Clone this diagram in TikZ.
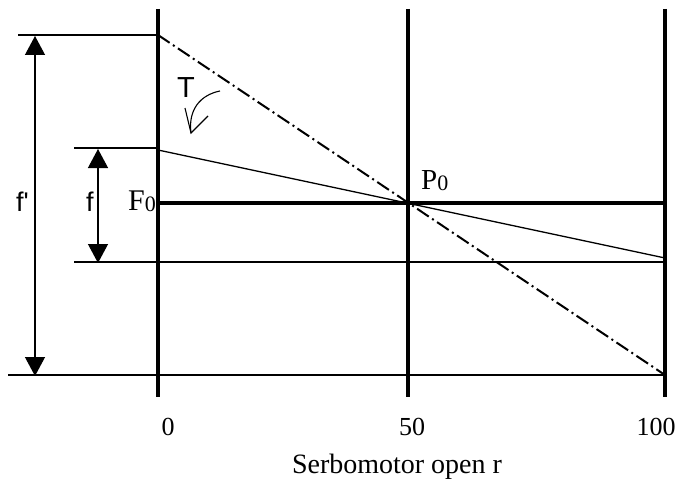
\documentclass[tikz,border=0pt]{standalone}
\usepackage{fontspec}
\setmainfont{Liberation Serif}
\newfontfamily\arialf{Liberation Sans}
\usetikzlibrary{arrows.meta}
\newcommand{\subzero}{\raisebox{-1pt}{\fontsize{22}{22}\selectfont 0}}
\begin{document}
\begin{tikzpicture}[x=1pt,y=-1pt,
  axisline/.style={line width=4pt},
  midline/.style={line width=3.5pt},
  thinline/.style={line width=1.3pt},
  dimline/.style={line width=1.3pt,{Triangle[length=19pt,width=20pt]}-{Triangle[length=19pt,width=20pt]}},
  dashdotline/.style={line width=2pt,dash pattern=on 14pt off 4pt on 2pt off 4pt},
  numlabel/.style={font=\fontsize{26}{26}\selectfont,inner sep=0pt,anchor=base},
  ptlabel/.style={font=\fontsize{30}{30}\selectfont,inner sep=0pt},
  sans/.style={font=\arialf\fontsize{27}{27}\selectfont,inner sep=0pt,anchor=base west}]
\useasboundingbox (0,0) rectangle (685,484);
% coordinates
\coordinate (a0t) at (158,9);   \coordinate (a0b) at (158,397);
\coordinate (a5t) at (408,9);   \coordinate (a5b) at (408,397);
\coordinate (a1t) at (665,9);   \coordinate (a1b) at (665,397);
\coordinate (F0) at (158,203);  \coordinate (P0) at (408,203);  \coordinate (R0) at (665,203);
\coordinate (topL) at (18,35);  \coordinate (topR) at (158,35);
\coordinate (fhL) at (74,148);  \coordinate (fhR) at (158,148);
\coordinate (flL) at (74,262);  \coordinate (flR) at (665,262);
\coordinate (botL) at (8,375);  \coordinate (botR) at (665,375);
\coordinate (sA) at (158,150);  \coordinate (sB) at (665,258);
\coordinate (dA) at (158,35);   \coordinate (dB) at (665,375);
\coordinate (fpT) at (35,36);   \coordinate (fpB) at (35,376);
\coordinate (fT) at (98,149);   \coordinate (fB) at (98,263);
\coordinate (cS) at (220,91);   \coordinate (cE) at (191,133);
\coordinate (bA) at (185,108);  \coordinate (bB) at (208,116);
% thin horizontal lines
\draw[thinline] (topL) -- (topR);
\draw[thinline] (fhL) -- (fhR);
\draw[thinline] (flL) -- (flR);
\draw[thinline] (botL) -- (botR);
% slanted lines
\draw[thinline] (sA) -- (sB);
\draw[dashdotline] (dA) -- (dB);
% axes
\draw[axisline] (a0t) -- (a0b);
\draw[axisline] (a5t) -- (a5b);
\draw[axisline] (a1t) -- (a1b);
\draw[midline] (F0) -- (R0);
% dimension arrows
\draw[dimline] (fpT) -- (fpB);
\draw[dimline] (fT) -- (fB);
% curved arrow
\draw[line width=1.1pt] (cS) .. controls (200,95) and (188,110) .. (cE);
\draw[line width=1.1pt] (bA) -- (cE) -- (bB);
% labels
\node[sans] (lfp) at (16,211) {f'};
\node[sans] (lf) at (86,211) {f};
\node[sans,font=\arialf\fontsize{29}{29}\selectfont,anchor=base] (lT) at (186,98) {T};
\node[ptlabel,anchor=base east] (lF0) at (156,210) {F\subzero};
\node[ptlabel,anchor=base west,font=\fontsize{29}{29}\selectfont] (lP0) at (421,189) {P\subzero};
\node[numlabel] (l0) at (168,435) {0};
\node[numlabel] (l50) at (412,435) {50};
\node[numlabel] (l100) at (656,435) {100};
\node[numlabel,font=\fontsize{28}{28}\selectfont] (lx) at (397,473) {Serbomotor open r};
\end{tikzpicture}
\end{document}
